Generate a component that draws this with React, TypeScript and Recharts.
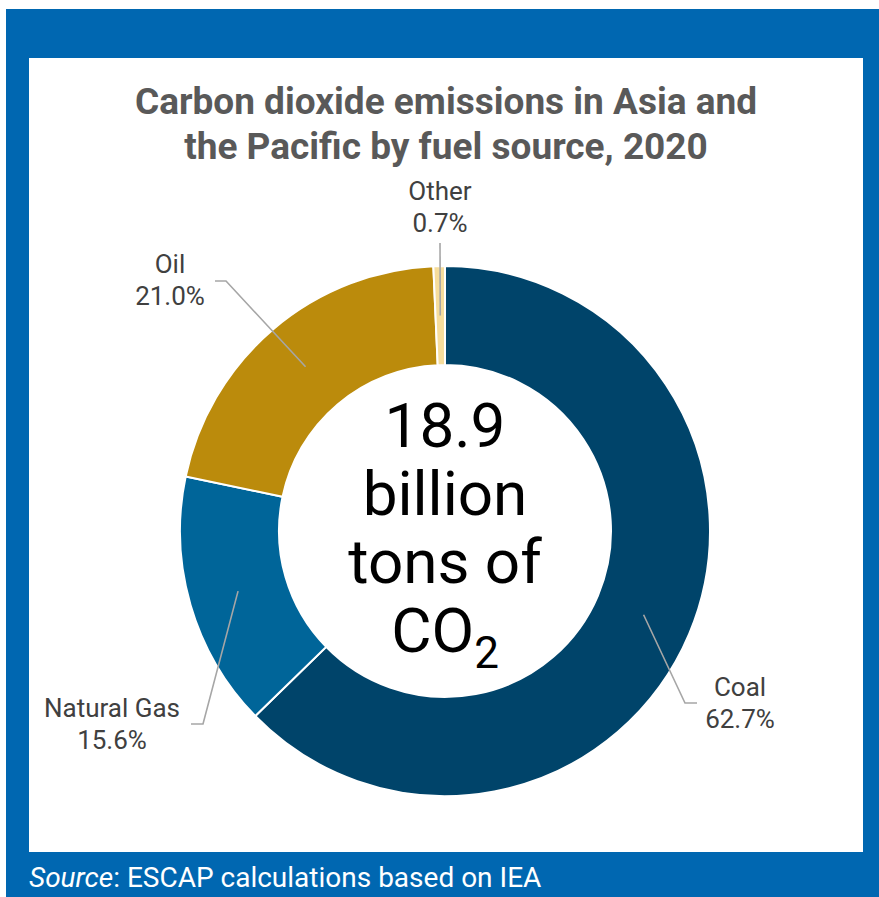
import { Pie, PieChart, Cell } from 'recharts'

const CATEGORIES = ['Coal', 'Natural Gas', 'Oil', 'Other']
const SHARES = [62.7, 15.6, 21.0, 0.7]
const CENTER_LINES = ['18.9', 'billion', 'tons of']

const COLORS: Record<string, string> = {
  Coal: '#00446a',
  'Natural Gas': '#006599',
  Oil: '#bb8b0c',
  Other: '#f6dd9c',
}

// leader elbow/end and text offsets, relative to the pie centre
const LABEL_LAYOUT: Record<string, { elbow: [number, number]; end: [number, number]; tx: number; ty: number }> = {
  Coal: { elbow: [240, 172], end: [252, 172], tx: 295, ty: 165 },
  'Natural Gas': { elbow: [-242, 193], end: [-254, 193], tx: -333, ty: 186 },
  Oil: { elbow: [-219, -250], end: [-230, -250], tx: -275, ty: -258 },
  Other: { elbow: [-5, -288], end: [-5, -288], tx: -5, ty: -331 },
}

const data = CATEGORIES.map((name, i) => ({ name, value: SHARES[i] }))

const FONT = 'Roboto, "Noto Sans", sans-serif'
const RAD = Math.PI / 180
const CHART_W = 834
const CHART_H = 794
const PIE_CX = 416
const PIE_CY = 473

function SliceLabel(props: any) {
  const { cx, cy, midAngle, innerRadius, outerRadius, name, value } = props
  const lay = LABEL_LAYOUT[name]
  if (!lay) return null
  const r = (innerRadius + outerRadius) / 2
  const sx = cx + r * Math.cos(-midAngle * RAD)
  const sy = cy + r * Math.sin(-midAngle * RAD)
  const pts = `${sx},${sy} ${cx + lay.elbow[0]},${cy + lay.elbow[1]} ${cx + lay.end[0]},${cy + lay.end[1]}`
  return (
    <g>
      <polyline points={pts} fill="none" stroke="#a6a6a6" strokeWidth={1.6} />
      <text x={cx + lay.tx} y={cy + lay.ty} textAnchor="middle" fontFamily={FONT} fontSize={26} fill="#404040">
        <tspan x={cx + lay.tx}>{name}</tspan>
        <tspan x={cx + lay.tx} dy={32}>{`${Number(value).toFixed(1)}%`}</tspan>
      </text>
    </g>
  )
}

function CenterText() {
  return (
    <svg width={CHART_W} height={CHART_H} style={{ position: 'absolute', left: 0, top: 0, pointerEvents: 'none' }}>
      <text textAnchor="middle" fontFamily={FONT} fontSize={62} fill="#000">
        {CENTER_LINES.map((line, i) => (
          <tspan key={i} x={PIE_CX} y={PIE_CY - 84 + i * 68}>{line}</tspan>
        ))}
      </text>
      <text x={PIE_CX} y={PIE_CY + 121} textAnchor="middle" fontFamily={FONT} fontSize={62} fill="#000">
        CO<tspan fontSize={44} dy={16}>2</tspan>
      </text>
    </svg>
  )
}

export default function App() {
  return (
    <div style={{ position: 'absolute', left: 0, top: 0, width: 879, height: 897, background: '#fff', fontFamily: FONT }}>
      <div style={{ position: 'absolute', left: 6, top: 9, width: 873, height: 888, background: '#0067b1' }} />
      <div style={{ position: 'absolute', left: 29, top: 58, width: 834, height: 794, background: '#fff' }} />
      <div
        style={{
          position: 'absolute',
          left: 29,
          top: 79,
          width: 834,
          textAlign: 'center',
          fontSize: 37,
          fontWeight: 700,
          lineHeight: '45px',
          color: '#595959',
        }}
      >
        Carbon dioxide emissions in Asia and
        <br />
        the Pacific by fuel source, 2020
      </div>
      <div style={{ position: 'absolute', left: 29, top: 58, width: CHART_W, height: CHART_H }}>
        <PieChart width={CHART_W} height={CHART_H} margin={{ top: 0, right: 0, bottom: 0, left: 0 }}>
          <Pie
            data={data}
            dataKey="value"
            nameKey="name"
            cx={PIE_CX}
            cy={PIE_CY}
            innerRadius={166}
            outerRadius={265}
            startAngle={90}
            endAngle={-270}
            stroke="#fff"
            strokeWidth={2}
            label={SliceLabel}
            labelLine={false}
            isAnimationActive={false}
          >
            {data.map((d) => (
              <Cell key={d.name} fill={COLORS[d.name]} />
            ))}
          </Pie>
        </PieChart>
        <CenterText />
      </div>
      <div style={{ position: 'absolute', left: 29, top: 861, fontSize: 28, lineHeight: '34px', color: '#fff', whiteSpace: 'nowrap' }}>
        <i>Source</i>: ESCAP calculations based on IEA
      </div>
    </div>
  )
}
